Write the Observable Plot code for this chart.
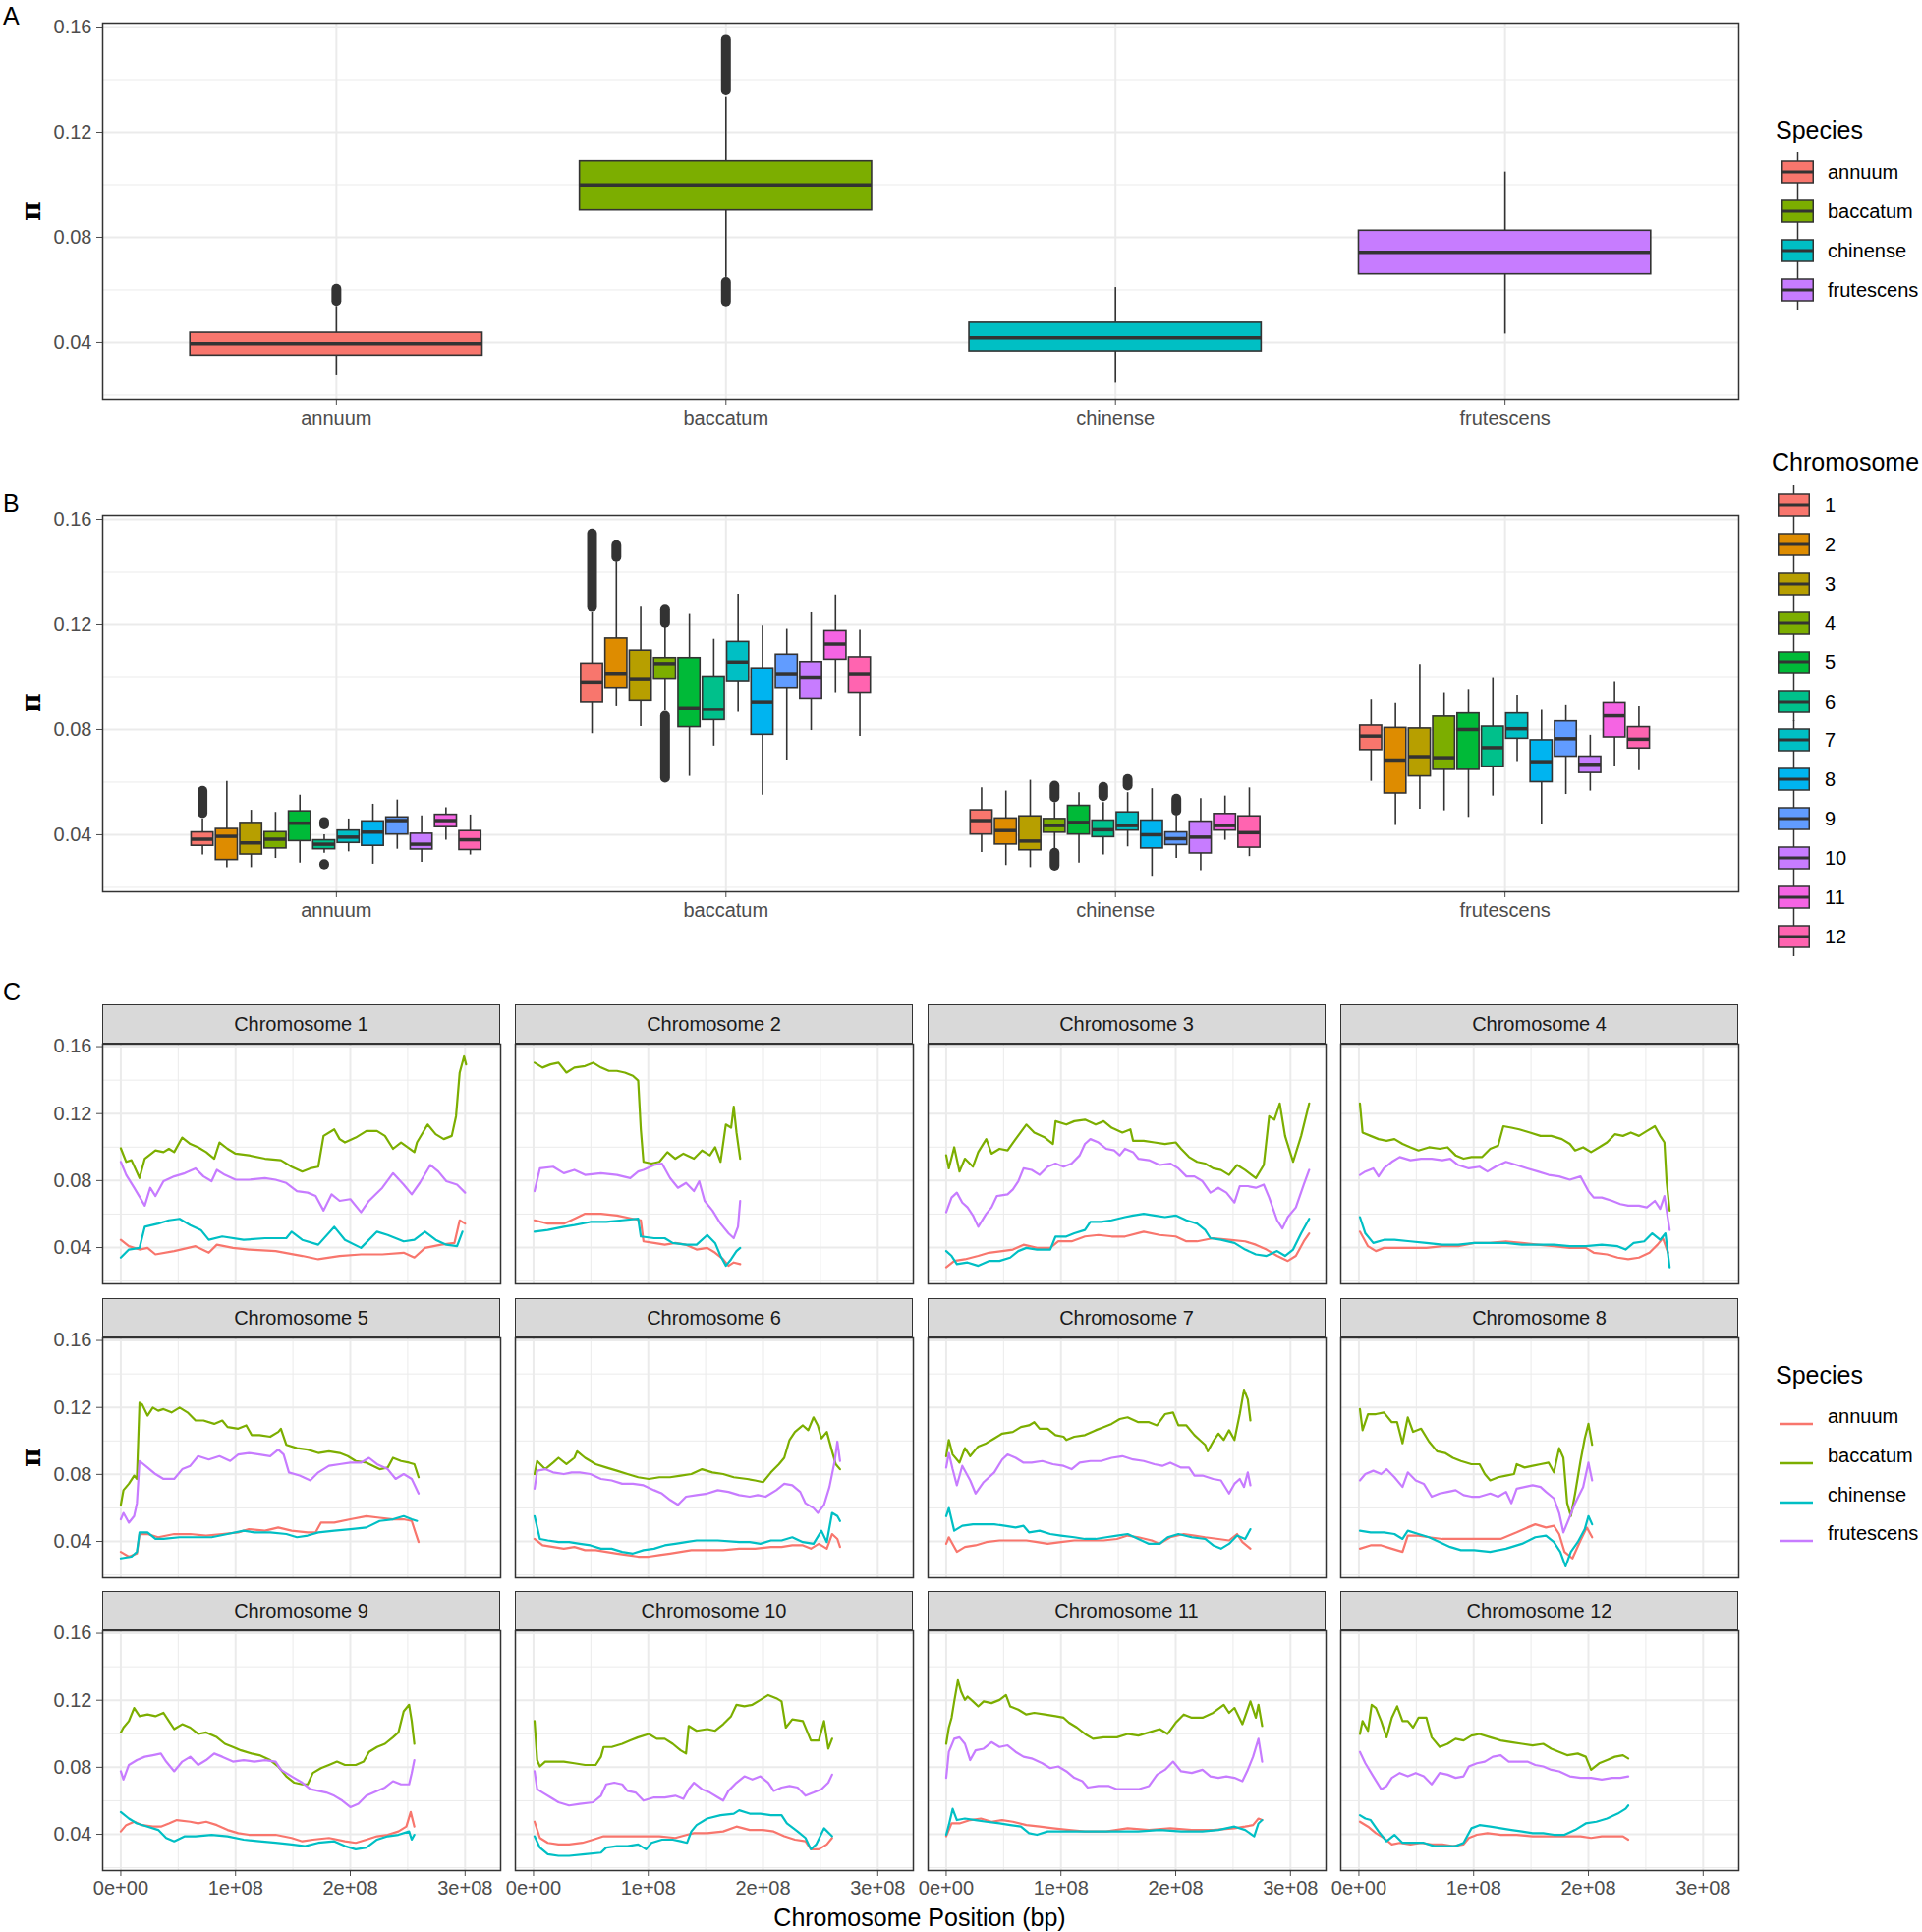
<!DOCTYPE html>
<html><head><meta charset="utf-8">
<script src="https://cdn.jsdelivr.net/npm/d3@7"></script>
<script src="https://cdn.jsdelivr.net/npm/@observablehq/plot@0.6"></script>
<style>
body{margin:0;background:#fff;}
#root{position:relative;width:1956px;height:1966px;overflow:hidden;}
</style></head><body><div id="root"></div><script>
// ---------- shared categories ----------
const speciesNames = ["annuum","baccatum","chinense","frutescens"];
const speciesColors = ["#F8766D","#7CAE00","#00BFC4","#C77CFF"];
const chromNames = ["1","2","3","4","5","6","7","8","9","10","11","12"];
const chromColors = ["#F8766D","#DE8C00","#B79F00","#7CAE00","#00BA38","#00C08B","#00BFC4","#00B4F0","#619CFF","#C77CFF","#F564E3","#FF64B0"];
const piTicks = [0.04,0.08,0.12,0.16];
const piMinor = [0.02,0.06,0.10,0.14];
const posTicks = [0,1e8,2e8,3e8];
const posMinor = [0.5e8,1.5e8,2.5e8];

// ---------- Panel A: box statistics per species ----------
const A_lower  = [0.0273,0.0647,0.0245,0.0432];
const A_q1     = [0.0350,0.0902,0.0366,0.0659];
const A_median = [0.0395,0.0999,0.0418,0.0743];
const A_q3     = [0.0437,0.1089,0.0475,0.0825];
const A_upper  = [0.0537,0.1332,0.0609,0.1048];
const outA_species = ["annuum","baccatum","baccatum"];
const outA_from = [0.0556,0.1357,0.0554];
const outA_to   = [0.0603,0.1550,0.0628];

// ---------- Panel B: box statistics per species x chromosome ----------
const annuum_lo  = [0.0323,0.0275,0.0275,0.0310,0.0292,0.0330,0.0335,0.0288,0.0345,0.0295,0.0379,0.0323];
const annuum_q1  = [0.0358,0.0304,0.0325,0.0348,0.0376,0.0345,0.0369,0.0358,0.0401,0.0344,0.0429,0.0342];
const annuum_med = [0.0383,0.0394,0.0369,0.0383,0.0444,0.0364,0.0391,0.0410,0.0454,0.0364,0.0454,0.0381];
const annuum_q3  = [0.0409,0.0422,0.0445,0.0410,0.0489,0.0379,0.0416,0.0451,0.0466,0.0404,0.0476,0.0414];
const annuum_hi  = [0.0460,0.0603,0.0493,0.0485,0.0550,0.0400,0.0460,0.0516,0.0532,0.0472,0.0503,0.0475];
const baccatum_lo  = [0.0784,0.0890,0.0811,0.0871,0.0622,0.0737,0.0865,0.0550,0.0684,0.0796,0.0940,0.0774];
const baccatum_q1  = [0.0905,0.0958,0.0911,0.0992,0.0809,0.0836,0.0983,0.0780,0.0958,0.0918,0.1064,0.0940];
const baccatum_med = [0.0980,0.1012,0.0992,0.1049,0.0883,0.0877,0.1055,0.0906,0.1011,0.0998,0.1127,0.1011];
const baccatum_q3  = [0.1049,0.1148,0.1102,0.1070,0.1070,0.1000,0.1135,0.1031,0.1083,0.1055,0.1176,0.1073];
const baccatum_hi  = [0.1245,0.1438,0.1266,0.1189,0.1239,0.1145,0.1316,0.1195,0.1183,0.1245,0.1313,0.1179];
const chinense_lo  = [0.0333,0.0283,0.0275,0.0345,0.0292,0.0323,0.0354,0.0242,0.0310,0.0263,0.0379,0.0317];
const chinense_q1  = [0.0401,0.0363,0.0341,0.0408,0.0401,0.0391,0.0416,0.0348,0.0361,0.0329,0.0416,0.0351];
const chinense_med = [0.0454,0.0416,0.0376,0.0435,0.0447,0.0419,0.0435,0.0400,0.0385,0.0391,0.0435,0.0408];
const chinense_q3  = [0.0493,0.0462,0.0470,0.0460,0.0510,0.0454,0.0485,0.0454,0.0409,0.0450,0.0479,0.0470];
const chinense_hi  = [0.0578,0.0566,0.0607,0.0522,0.0560,0.0522,0.0560,0.0575,0.0472,0.0537,0.0547,0.0578];
const frutescens_lo  = [0.0603,0.0435,0.0497,0.0491,0.0466,0.0547,0.0678,0.0438,0.0553,0.0566,0.0662,0.0644];
const frutescens_q1  = [0.0722,0.0557,0.0622,0.0647,0.0647,0.0659,0.0765,0.0600,0.0697,0.0635,0.0770,0.0728];
const frutescens_med = [0.0775,0.0684,0.0697,0.0693,0.0800,0.0731,0.0803,0.0678,0.0765,0.0668,0.0852,0.0763];
const frutescens_q3  = [0.0815,0.0806,0.0804,0.0849,0.0861,0.0811,0.0861,0.0759,0.0831,0.0697,0.0903,0.0809];
const frutescens_hi  = [0.0915,0.0902,0.1046,0.0940,0.0952,0.0996,0.0931,0.0877,0.0894,0.0778,0.0981,0.0890];
const outB_species = ["annuum","annuum","annuum","baccatum","baccatum","baccatum","baccatum","chinense","chinense","chinense","chinense","chinense"];
const outB_chrom = [1,6,6,1,2,4,4,4,4,6,7,9];
const outB_from = [0.0480,0.0437,0.0285,0.1265,0.1455,0.1205,0.0615,0.0540,0.0280,0.0545,0.0585,0.0490];
const outB_to   = [0.0565,0.0447,0.0287,0.1545,0.1500,0.1255,0.0850,0.0585,0.0330,0.0580,0.0610,0.0535];

// ---------- Panel C: sliding-window pi, [position Mb, pi] ----------
const chr1_annuum = [[0,.0446],[7,.0408],[16.3,.0388],[23.3,.0398],[30.2,.0359],[46.5,.0379],[65.1,.0408],[76.7,.0369],[83.7,.0417],[97.7,.0398],[111.6,.0388],[134.9,.0379],[158.1,.035],[172.1,.033],[190.7,.035],[209.3,.0359],[227.9,.0359],[246.5,.0369],[255.8,.034],[265.1,.0398],[279.1,.0417],[290.7,.0427],[295.3,.0563],[300,.0543]];
const chr1_baccatum = [[0,.0993],[4.7,.0912],[9.3,.0922],[16.3,.0815],[20.9,.0931],[30.2,.098],[37.2,.097],[41.9,.099],[46.5,.097],[53.5,.1057],[60.5,.1019],[67.4,.0999],[74.4,.097],[81.4,.0931],[86,.1028],[93,.099],[100,.0961],[111.6,.0951],[125.6,.0931],[139.5,.0922],[148.8,.0883],[158.1,.0854],[165.1,.0873],[172.1,.0883],[176.7,.1067],[186,.1106],[190.7,.1048],[195.3,.1028],[204.7,.1057],[214,.1096],[223.3,.1096],[230.2,.1067],[237.2,.099],[244.2,.1028],[255.8,.097],[258.1,.1028],[267.4,.1135],[274.4,.1077],[281.4,.1048],[288.4,.1067],[292.1,.1184],[295.3,.1445],[299.1,.1542],[300.9,.1494]];
const chr1_chinense = [[0,.034],[7,.0388],[16.3,.0398],[20.9,.0524],[32.6,.0543],[41.9,.0563],[51.2,.0572],[60.5,.0534],[69.8,.0505],[76.7,.0446],[88.4,.0466],[107,.0446],[125.6,.0456],[144.2,.0456],[148.8,.0495],[158.1,.0446],[172.1,.0417],[186,.0524],[195.3,.0446],[209.3,.0398],[223.3,.0495],[232.6,.0475],[246.5,.0437],[255.8,.0446],[265.1,.0495],[274.4,.0446],[283.7,.0417],[293,.0408],[297.7,.0495]];
const chr1_frutescens = [[0,.0912],[4.7,.0834],[11.6,.0757],[20.9,.065],[25.6,.0757],[30.2,.0708],[37.2,.0796],[46.5,.0825],[55.8,.0844],[65.1,.0873],[72.1,.0825],[79.1,.0796],[83.7,.0864],[90.7,.0834],[100,.0805],[111.6,.0805],[125.6,.0815],[134.9,.0805],[144.2,.0786],[153.5,.0737],[162.8,.0728],[169.8,.0708],[176.7,.0621],[183.7,.0718],[190.7,.0679],[200,.0689],[209.3,.0611],[216.3,.0679],[227.9,.0757],[237.2,.0844],[246.5,.0776],[253.5,.0718],[260.5,.0786],[269.8,.0893],[276.7,.0854],[283.7,.0796],[293,.0776],[300,.0728]];
const chr2_annuum = [[0.9,.0563],[12.5,.0543],[26.4,.0543],[35.6,.0572],[44.9,.0602],[58.8,.0602],[72.7,.0592],[86.6,.0572],[93.5,.0563],[95.8,.0437],[105.1,.0427],[114.4,.0417],[123.6,.0427],[132.9,.0417],[142.1,.0388],[151.4,.0398],[158.3,.0369],[165.3,.033],[169.9,.0291],[174.5,.0311],[180.1,.0301]];
const chr2_baccatum = [[0.9,.1504],[7.9,.1475],[14.8,.1494],[21.8,.1504],[28.7,.1445],[35.6,.1475],[44.9,.1484],[51.9,.1504],[58.8,.1475],[65.7,.1455],[72.7,.1455],[79.6,.1445],[86.6,.1426],[91.2,.1397],[93.5,.1106],[95.8,.0912],[102.8,.0902],[109.7,.0912],[116.7,.097],[123.6,.0931],[130.6,.0961],[139.8,.0931],[146.8,.098],[153.7,.0951],[158.3,.0999],[163,.0912],[167.6,.1135],[172.2,.1116],[174.5,.1242],[176.9,.1087],[180.1,.0931]];
const chr2_chinense = [[0.9,.0495],[12.5,.0505],[26.4,.0524],[35.6,.0534],[49.5,.0553],[63.4,.0553],[77.3,.0563],[91.2,.0572],[93.5,.0466],[105.1,.0456],[114.4,.0456],[121.3,.0427],[132.9,.0417],[142.1,.0417],[151.4,.0475],[158.3,.0427],[163,.035],[167.6,.0291],[172.2,.033],[176.9,.0379],[180.1,.0398]];
const chr2_frutescens = [[0.9,.0737],[5.6,.0873],[17.1,.0883],[26.4,.0844],[35.6,.0864],[44.9,.0834],[58.8,.0844],[72.7,.0834],[84.3,.0815],[91.2,.0854],[95.8,.0864],[105.1,.0893],[112,.0902],[119,.0815],[125.9,.0757],[132.9,.0786],[139.8,.0737],[144.4,.0796],[149.1,.0679],[156,.0621],[163,.0543],[169.9,.0485],[174.5,.0456],[178.2,.0524],[180.1,.0679]];
const chr3_annuum = [[0,.0282],[7,.032],[16.3,.033],[27.9,.035],[37.2,.0369],[48.8,.0379],[58.1,.0388],[67.4,.0417],[79.1,.0398],[90.7,.0398],[97.7,.0437],[109.3,.0437],[120.9,.0466],[132.6,.0475],[144.2,.0466],[155.8,.0466],[172.1,.0495],[186,.0475],[200,.0466],[209.3,.0437],[218.6,.0437],[232.6,.0456],[246.5,.0446],[260.5,.0437],[269.8,.0417],[279.1,.0388],[288.4,.035],[297.7,.032],[304.7,.035],[311.6,.0437],[316.3,.0485]];
const chr3_baccatum = [[0,.0951],[2.3,.0873],[7,.0999],[11.6,.0854],[16.3,.0931],[23.3,.0883],[27.9,.097],[34.9,.1048],[39.5,.0961],[46.5,.099],[53.5,.098],[60.5,.1048],[69.8,.1135],[76.7,.1087],[86,.1057],[93,.1019],[95.3,.1155],[104.7,.1135],[111.6,.1155],[120.9,.1164],[130.2,.1135],[137.2,.1155],[144.2,.1116],[153.5,.1087],[160.5,.1106],[162.8,.1038],[172.1,.1038],[181.4,.1028],[190.7,.1019],[200,.1028],[204.7,.099],[211.6,.0941],[218.6,.0912],[225.6,.0902],[232.6,.0873],[239.5,.0863],[246.5,.0834],[253.5,.0893],[260.5,.0863],[269.8,.0815],[276.7,.0893],[281.4,.1184],[286,.1164],[290.7,.1261],[295.3,.1067],[302.3,.0912],[309.3,.1067],[316.3,.1261]];
const chr3_chinense = [[0,.0379],[4.7,.035],[9.3,.0301],[18.6,.0311],[27.9,.0291],[37.2,.032],[46.5,.032],[55.8,.034],[62.8,.0379],[69.8,.0398],[79.1,.0388],[90.7,.0388],[95.3,.0466],[104.7,.0466],[111.6,.0485],[120.9,.0505],[125.6,.0553],[134.9,.0553],[144.2,.0563],[155.8,.0582],[162.8,.0592],[172.1,.0602],[181.4,.0592],[190.7,.0582],[200,.0592],[209.3,.0563],[218.6,.0543],[225.6,.0505],[230.2,.0456],[239.5,.0446],[251.2,.0427],[260.5,.0388],[269.8,.0359],[279.1,.035],[288.4,.0379],[295.3,.035],[302.3,.0388],[309.3,.0485],[316.3,.0572]];
const chr3_frutescens = [[0,.0611],[4.7,.0699],[9.3,.0728],[14,.0669],[18.6,.064],[23.3,.0592],[27.9,.0524],[34.9,.0602],[39.5,.064],[44.2,.0708],[53.5,.0718],[58.1,.0747],[62.8,.0796],[67.4,.0873],[74.4,.0864],[81.4,.0834],[88.4,.0883],[95.3,.0902],[102.3,.0883],[109.3,.0902],[116.3,.0951],[120.9,.1019],[125.6,.1048],[132.6,.1028],[139.5,.099],[146.5,.098],[151.2,.0951],[155.8,.099],[162.8,.097],[167.4,.0931],[176.7,.0922],[186,.0893],[195.3,.0902],[202.3,.0873],[209.3,.0825],[216.3,.0825],[223.3,.0796],[230.2,.0728],[237.2,.0757],[244.2,.0728],[251.2,.0669],[255.8,.0767],[262.8,.0767],[269.8,.0757],[276.7,.0776],[281.4,.0699],[288.4,.0563],[293,.0514],[297.7,.0582],[304.7,.064],[311.6,.0776],[316.3,.0864]];
const chr4_annuum = [[0.9,.0495],[7.9,.0408],[14.8,.0379],[21.8,.0398],[31,.0398],[44.9,.0398],[58.8,.0398],[72.7,.0408],[86.6,.0408],[100.5,.0427],[114.4,.0427],[128.2,.0437],[142.1,.0427],[156,.0417],[169.9,.0408],[183.8,.0398],[197.7,.0398],[204.6,.0369],[216.2,.0359],[225.5,.034],[234.7,.033],[244,.034],[253.2,.0369],[260.2,.0417],[264.8,.0456],[269.4,.0369]];
const chr4_baccatum = [[0.9,.1261],[3.2,.1087],[10.2,.1067],[17.1,.1048],[24.1,.1038],[31,.1048],[38,.1019],[44.9,.0999],[51.9,.098],[61.1,.0999],[70.4,.099],[77.3,.0999],[84.3,.0951],[91.2,.0931],[98.1,.0941],[107.4,.0941],[114.4,.099],[121.3,.1009],[125.9,.1125],[132.9,.1116],[139.8,.1106],[149.1,.1087],[158.3,.1067],[167.6,.1067],[176.9,.1048],[183.8,.1019],[188.4,.098],[195.4,.0999],[202.3,.097],[209.3,.0999],[216.2,.1028],[223.1,.1077],[230.1,.1067],[237,.1087],[244,.1067],[250.9,.1096],[257.9,.1125],[262.5,.1067],[266.2,.1028],[268.1,.0796],[270.8,.0621]];
const chr4_chinense = [[0.9,.0582],[5.6,.0485],[12.5,.0427],[21.8,.0446],[31,.0446],[44.9,.0437],[58.8,.0427],[72.7,.0417],[86.6,.0417],[100.5,.0427],[114.4,.0427],[128.2,.0427],[142.1,.0417],[156,.0417],[169.9,.0417],[183.8,.0408],[197.7,.0408],[211.6,.0417],[225.5,.0408],[232.4,.0388],[239.4,.0427],[248.6,.0437],[255.6,.0485],[262.5,.0446],[267.1,.0485],[270.8,.0282]];
const chr4_frutescens = [[0.9,.0834],[5.6,.0854],[12.5,.0873],[17.1,.0825],[21.8,.0873],[28.7,.0912],[35.6,.0941],[44.9,.0922],[54.2,.0931],[63.4,.0931],[72.7,.0922],[79.6,.0931],[86.6,.0893],[95.8,.0873],[105.1,.0883],[112,.0854],[119,.0883],[128.2,.0912],[137.5,.0893],[146.8,.0873],[156,.0854],[165.3,.0834],[174.5,.0825],[183.8,.0805],[193.1,.0825],[200,.0737],[204.6,.0699],[211.6,.0699],[220.8,.0679],[227.8,.066],[234.7,.065],[244,.065],[250.9,.064],[257.9,.0679],[262.5,.0631],[266.2,.0708],[270.8,.0505]];
const chr5_annuum = [[0,.0338],[7,.0309],[14,.0328],[16.3,.0444],[23.3,.0444],[32.6,.0425],[46.5,.0444],[60.5,.0444],[74.4,.0435],[88.4,.0444],[102.3,.0454],[111.6,.0473],[125.6,.0464],[137.2,.0483],[148.8,.0464],[162.8,.0454],[169.8,.0454],[174.4,.0512],[186,.0512],[200,.0532],[214,.0551],[225.6,.0541],[237.2,.0532],[246.5,.0532],[253.5,.0522],[256.7,.0454],[259.5,.0396]];
const chr5_baccatum = [[0,.0619],[2.3,.0706],[7,.0744],[11.6,.0793],[14,.0773],[16.3,.1228],[18.6,.1218],[23.3,.1151],[27.9,.1199],[32.6,.118],[37.2,.119],[44.2,.117],[51.2,.1199],[58.1,.117],[65.1,.1122],[72.1,.1122],[81.4,.1102],[88.4,.1122],[93,.1083],[102.3,.1073],[109.3,.1093],[114,.1035],[120.9,.1035],[130.2,.1025],[137.2,.1054],[139.5,.1073],[144.2,.0977],[153.5,.0957],[162.8,.0948],[172.1,.0928],[181.4,.0938],[190.7,.0928],[197.7,.0909],[204.7,.088],[214,.087],[225.6,.0831],[232.6,.0841],[237.2,.0899],[244.2,.088],[251.2,.087],[255.8,.0861],[259.5,.0783]];
const chr5_chinense = [[0,.0299],[9.3,.0309],[14,.0338],[16.3,.0454],[23.3,.0454],[30.2,.0415],[37.2,.0415],[51.2,.0425],[65.1,.0425],[79.1,.0425],[93,.0444],[107,.0464],[116.3,.0454],[130.2,.0454],[144.2,.0444],[153.5,.0425],[162.8,.0435],[172.1,.0454],[186,.0464],[200,.0473],[214,.0483],[225.6,.0522],[237.2,.0532],[246.5,.0551],[253.5,.0532],[258.1,.0522]];
const chr5_frutescens = [[0,.0532],[2.3,.057],[7,.0512],[11.6,.0551],[14,.0628],[16.3,.088],[23.3,.0841],[30.2,.0802],[37.2,.0773],[46.5,.0773],[53.5,.0831],[60.5,.0851],[67.4,.0909],[76.7,.0889],[86,.0909],[95.3,.088],[102.3,.0919],[111.6,.0928],[120.9,.0919],[130.2,.0909],[137.2,.0948],[141.9,.0919],[146.5,.0812],[155.8,.0793],[165.1,.0764],[172.1,.0812],[181.4,.0851],[190.7,.0861],[200,.087],[209.3,.087],[216.3,.0899],[223.3,.0861],[232.6,.0831],[239.5,.0773],[246.5,.0802],[253.5,.0773],[259.5,.0686]];
const chr6_annuum = [[0.9,.0415],[7.9,.0377],[17.1,.0367],[26.4,.0357],[35.6,.0367],[44.9,.0348],[54.2,.0348],[63.4,.0338],[72.7,.0328],[81.9,.0319],[91.2,.0309],[100.5,.0309],[109.7,.0319],[119,.0328],[128.2,.0338],[137.5,.0348],[151.4,.0348],[165.3,.0348],[179.2,.0357],[193.1,.0357],[206.9,.0367],[216.2,.0367],[225.5,.0377],[234.7,.0377],[241.7,.0357],[248.6,.0386],[255.6,.0357],[260.2,.0444],[264.8,.0415],[267.1,.0367]];
const chr6_baccatum = [[0.9,.0802],[3.2,.088],[10.2,.0831],[17.1,.087],[21.8,.0899],[28.7,.0861],[35.6,.0899],[38,.0938],[44.9,.0899],[54.2,.0861],[63.4,.0841],[72.7,.0822],[81.9,.0802],[91.2,.0783],[100.5,.0773],[109.7,.0783],[119,.0783],[128.2,.0793],[137.5,.0802],[146.8,.0831],[156,.0812],[165.3,.0802],[174.5,.0783],[186.1,.0773],[193.1,.0764],[200,.0754],[206.9,.0812],[213.9,.0861],[218.5,.0899],[223.1,.1006],[227.8,.1054],[234.7,.1093],[239.4,.1064],[244,.1141],[247.7,.1093],[250.9,.1015],[255.6,.1054],[260.2,.0938],[263.4,.0861],[267.1,.0831]];
const chr6_chinense = [[0.9,.0551],[5.6,.0415],[12.5,.0406],[21.8,.0396],[31,.0396],[40.3,.0386],[49.5,.0377],[58.8,.0357],[68.1,.0357],[77.3,.0338],[86.6,.0328],[95.8,.0348],[105.1,.0357],[114.4,.0377],[123.6,.0386],[132.9,.0396],[142.1,.0406],[160.6,.0406],[179.2,.0396],[188.4,.0396],[197.7,.0386],[206.9,.0406],[216.2,.0406],[225.5,.0425],[234.7,.0396],[244,.0386],[250.9,.0464],[255.6,.0396],[260.2,.057],[264.8,.0551],[267.1,.0522]];
const chr6_frutescens = [[0.9,.0715],[3.2,.0822],[10.2,.0831],[17.1,.0812],[26.4,.0802],[33.3,.0812],[40.3,.0812],[49.5,.0802],[58.8,.0773],[68.1,.0764],[77.3,.0744],[86.6,.0744],[95.8,.0735],[105.1,.0706],[112,.0686],[119,.0648],[125.9,.0619],[132.9,.0667],[142.1,.0677],[151.4,.0686],[160.6,.0706],[169.9,.0696],[179.2,.0677],[188.4,.0667],[195.4,.0677],[202.3,.0667],[211.6,.0706],[218.5,.0744],[225.5,.0735],[232.4,.0696],[237,.0628],[244,.0599],[247.7,.057],[253.2,.0619],[257.9,.0725],[262.5,.088],[264.8,.0996],[267.1,.088]];
const chr7_annuum = [[0,.0386],[2.3,.0425],[9.3,.0338],[16.3,.0367],[25.6,.0377],[34.9,.0396],[46.5,.0406],[58.1,.0406],[69.8,.0406],[79.1,.0396],[88.4,.0386],[100,.0396],[111.6,.0406],[123.3,.0406],[137.2,.0406],[148.8,.0415],[158.1,.0435],[167.4,.0425],[179.1,.0406],[186,.0386],[195.3,.0425],[207,.0444],[216.3,.0435],[225.6,.0425],[237.2,.0415],[246.5,.0406],[253.5,.0444],[258.1,.0396],[265.1,.0357]];
const chr7_baccatum = [[0,.0909],[2.3,.1006],[5.6,.0919],[11.6,.087],[16.3,.0957],[20.9,.0909],[27.9,.0967],[34.9,.0986],[41.9,.1015],[48.8,.1044],[58.1,.1054],[65.1,.1083],[72.1,.1093],[76.7,.1112],[81.4,.1073],[88.4,.1073],[95.3,.1035],[102.3,.1025],[104.7,.1006],[111.6,.1025],[120.9,.1035],[130.2,.1064],[137.2,.1083],[144.2,.1102],[151.2,.1131],[158.1,.1141],[167.4,.1112],[176.7,.1112],[183.7,.1093],[190.7,.116],[197.7,.117],[202.3,.1093],[209.3,.1093],[216.3,.1035],[220.9,.1006],[225.6,.0977],[227.9,.0938],[232.6,.0996],[237.2,.1044],[241.9,.1006],[246.5,.1064],[251.2,.1006],[255.8,.116],[259.5,.1306],[262.8,.1247],[265.1,.1122]];
const chr7_chinense = [[0,.0551],[2.3,.0599],[7,.0464],[14,.0493],[23.3,.0502],[32.6,.0502],[41.9,.0502],[51.2,.0493],[60.5,.0483],[67.4,.0493],[72.1,.0454],[81.4,.0464],[90.7,.0444],[100,.0435],[111.6,.0425],[120.9,.0415],[130.2,.0415],[139.5,.0425],[148.8,.0435],[158.1,.0444],[167.4,.0415],[176.7,.0386],[186,.0386],[193,.0425],[202.3,.0444],[214,.0425],[225.6,.0415],[232.6,.0377],[239.5,.0357],[246.5,.0386],[253.5,.0435],[260.5,.0415],[265.1,.0473]];
const chr7_frutescens = [[0,.0841],[2.3,.0928],[5.6,.0831],[9.3,.0735],[14,.0851],[20.9,.0764],[25.6,.0686],[32.6,.0754],[41.9,.0812],[48.8,.0889],[53.5,.0919],[60.5,.0899],[67.4,.087],[74.4,.087],[83.7,.088],[93,.0861],[102.3,.0851],[109.3,.0831],[116.3,.087],[125.6,.088],[134.9,.088],[144.2,.0899],[153.5,.0909],[162.8,.0889],[172.1,.088],[181.4,.0861],[188.4,.0851],[195.3,.087],[204.7,.0841],[211.6,.0841],[216.3,.0793],[223.3,.0793],[232.6,.0773],[239.5,.0764],[246.5,.0686],[251.2,.0744],[255.8,.0773],[259.5,.0725],[262.8,.0812],[265.1,.0735]];
const chr8_annuum = [[0.9,.0357],[10.2,.0377],[19.4,.0377],[28.7,.0357],[38,.0338],[42.6,.0435],[51.9,.0435],[61.1,.0425],[72.7,.0415],[95.8,.0415],[123.6,.0415],[137.5,.0454],[146.8,.0483],[153.7,.0502],[163,.0483],[169.9,.0493],[174.5,.0444],[179.2,.0338],[186.1,.0299],[193.1,.0406],[198.6,.0483],[203.2,.0425]];
const chr8_baccatum = [[0.9,.119],[3.2,.1064],[7.9,.116],[14.8,.116],[21.8,.117],[28.7,.1112],[33.3,.1112],[38,.0986],[42.6,.1141],[47.2,.1054],[54.2,.1073],[61.1,.0996],[68.1,.0938],[75,.0928],[81.9,.0899],[88.9,.088],[98.1,.0861],[105.1,.0861],[109.7,.0802],[114.4,.0764],[121.3,.0783],[128.2,.0793],[135.2,.0802],[137.5,.0861],[144.4,.0841],[151.4,.0851],[158.3,.0861],[165.3,.087],[169.9,.0812],[174.5,.0957],[178.2,.0899],[181.5,.0628],[184.7,.0551],[188.4,.0686],[193.1,.088],[196.8,.1015],[200,.1102],[203.2,.0977]];
const chr8_chinense = [[0.9,.0464],[10.2,.0454],[21.8,.0454],[31,.0444],[38,.0415],[42.6,.0464],[51.9,.0444],[61.1,.0425],[70.4,.0396],[79.6,.0367],[88.9,.0348],[100.5,.0348],[114.4,.0338],[128.2,.0357],[142.1,.0386],[153.7,.0425],[163,.0435],[169.9,.0396],[175.5,.0338],[180.1,.0251],[184.7,.0338],[190.7,.0396],[196.8,.0473],[200,.0551],[203.2,.0502]];
const chr8_frutescens = [[0.9,.0764],[5.6,.0802],[12.5,.0822],[19.4,.0802],[24.1,.0831],[31,.0783],[38,.0725],[42.6,.0812],[49.5,.0764],[56.5,.0744],[63.4,.0667],[70.4,.0686],[77.3,.0696],[84.3,.0706],[91.2,.0677],[98.1,.0667],[105.1,.0667],[114.4,.0686],[121.3,.0667],[128.2,.0696],[132.9,.0628],[137.5,.0715],[144.4,.0725],[151.4,.0735],[158.3,.0725],[163,.0696],[169.9,.0657],[174.5,.057],[178.2,.0454],[182.9,.0532],[188.4,.0628],[195.4,.0725],[200,.087],[203.2,.0764]];
const chr9_annuum = [[0,.0417],[4.7,.0455],[11.6,.0475],[18.6,.0455],[27.9,.0446],[34.9,.0446],[41.9,.0465],[48.8,.0485],[60.5,.0475],[67.4,.0465],[74.4,.0475],[83.7,.0455],[93,.0426],[102.3,.0407],[111.6,.0397],[120.9,.0397],[134.9,.0397],[148.8,.0378],[158.1,.0358],[167.4,.0368],[181.4,.0378],[195.3,.0358],[204.7,.0349],[214,.0368],[223.3,.0388],[232.6,.0397],[241.9,.0417],[248.8,.0446],[252.6,.0533],[255.8,.0446]];
const chr9_baccatum = [[0,.1008],[2.3,.1037],[7,.1076],[11.6,.1154],[16.3,.1105],[23.3,.1115],[30.2,.1105],[37.2,.1125],[41.9,.1076],[46.5,.1028],[53.5,.1057],[60.5,.1037],[67.4,.0999],[74.4,.1008],[83.7,.0979],[90.7,.094],[97.7,.0921],[104.7,.0901],[114,.0882],[120.9,.0872],[130.2,.0843],[137.2,.0805],[144.2,.0746],[151.2,.0708],[158.1,.0698],[162.8,.0698],[167.4,.0766],[174.4,.0795],[181.4,.0814],[188.4,.0834],[195.3,.0814],[204.7,.0814],[211.6,.0834],[216.3,.0892],[223.3,.0921],[230.2,.094],[237.2,.0979],[241.9,.1008],[246.5,.1134],[251.2,.1173],[253.5,.1076],[255.8,.094]];
const chr9_chinense = [[0,.0533],[7,.0494],[14,.0465],[23.3,.0446],[32.6,.0426],[39.5,.0378],[46.5,.0358],[55.8,.0388],[65.1,.0388],[79.1,.0397],[93,.0388],[107,.0368],[120.9,.0358],[134.9,.0349],[148.8,.0339],[160.5,.0329],[172.1,.0349],[186,.0358],[195.3,.0329],[204.7,.031],[214,.032],[223.3,.0368],[232.6,.0388],[241.9,.0397],[251.2,.0417],[253.5,.0368],[255.8,.0397]];
const chr9_frutescens = [[0,.0776],[2.3,.0727],[7,.0814],[14,.0843],[20.9,.0863],[27.9,.0872],[34.9,.0882],[39.5,.0834],[46.5,.0776],[53.5,.0834],[60.5,.0863],[67.4,.0814],[74.4,.0843],[81.4,.0882],[88.4,.0863],[97.7,.0834],[107,.0843],[116.3,.0834],[125.6,.0843],[134.9,.0834],[139.5,.0785],[148.8,.0746],[158.1,.0708],[165.1,.0669],[172.1,.0659],[179.1,.0649],[186,.063],[193,.0601],[200,.0562],[207,.0582],[214,.063],[223.3,.0659],[230.2,.0679],[237.2,.0717],[244.2,.0698],[251.2,.0698],[253.5,.0766],[255.8,.0843]];
const chr10_annuum = [[0.9,.0475],[5.6,.0378],[12.5,.0349],[21.8,.0339],[31,.0339],[42.6,.0349],[51.9,.0368],[61.1,.0388],[81.9,.0388],[109.7,.0388],[123.6,.0378],[133.8,.0397],[139.8,.0407],[151.4,.0407],[165.3,.0417],[176.9,.0446],[188.4,.0426],[200,.0426],[209.3,.0417],[218.5,.0388],[227.8,.0368],[237,.0358],[241.7,.031],[248.6,.031],[255.6,.0339],[260.2,.0378]];
const chr10_baccatum = [[0.9,.1076],[3.2,.0843],[5.6,.0805],[10.2,.0834],[17.1,.0834],[26.4,.0834],[35.6,.0824],[44.9,.0814],[54.2,.0814],[58.8,.0863],[61.1,.0921],[68.1,.0921],[77.3,.094],[84.3,.096],[91.2,.0979],[100.5,.0999],[107.4,.097],[114.4,.097],[121.3,.094],[128.2,.0901],[132.9,.0882],[135.2,.1047],[142.1,.1018],[151.4,.1028],[158.3,.1018],[165.3,.1057],[172.2,.1105],[176.9,.1173],[183.8,.1164],[190.7,.1173],[197.7,.1202],[204.6,.1231],[211.6,.1212],[216.2,.1193],[219.9,.1037],[225.5,.1086],[234.7,.1076],[241.7,.096],[248.6,.096],[253.2,.1076],[256.9,.0911],[260.2,.097]];
const chr10_chinense = [[0.9,.0388],[5.6,.032],[12.5,.0281],[21.8,.0271],[31,.0271],[44.9,.0281],[58.8,.029],[63.4,.032],[72.7,.0329],[81.9,.0329],[91.2,.0339],[98.1,.031],[102.8,.0349],[112,.0368],[121.3,.0368],[128.2,.0358],[133.8,.0349],[137.5,.0417],[142.1,.0455],[151.4,.0494],[163,.0514],[174.5,.0523],[179.2,.0543],[188.4,.0523],[197.7,.0523],[206.9,.0514],[216.2,.0514],[220.8,.0465],[230.1,.0417],[237,.0378],[241.7,.031],[246.3,.0339],[253.2,.0436],[260.2,.0388]];
const chr10_frutescens = [[0.9,.0776],[3.2,.0669],[7.9,.0649],[14.8,.062],[21.8,.0591],[31,.0572],[40.3,.0581],[51.9,.0591],[58.8,.063],[63.4,.0698],[70.4,.0708],[77.3,.0698],[81.9,.0659],[88.9,.0649],[95.8,.0601],[105.1,.062],[114.4,.062],[123.6,.063],[130.6,.0611],[135.2,.0669],[139.8,.0708],[146.8,.0669],[153.7,.0649],[160.6,.062],[165.3,.0601],[169.9,.0659],[176.9,.0708],[183.8,.0746],[190.7,.0727],[197.7,.0746],[204.6,.0708],[209.3,.0659],[216.2,.0679],[223.1,.0688],[230.1,.0679],[237,.063],[244,.0649],[250.9,.0669],[256.9,.0708],[260.2,.0756]];
const chr11_annuum = [[0,.0388],[4.7,.0465],[11.6,.0465],[20.9,.0485],[30.2,.0494],[39.5,.0475],[48.8,.0485],[58.1,.0475],[69.8,.0455],[81.4,.0446],[93,.0436],[107,.0426],[120.9,.0417],[139.5,.0417],[158.1,.0436],[176.7,.0426],[195.3,.0436],[214,.0426],[232.6,.0426],[251.2,.0436],[260.5,.0446],[267.4,.0455],[272.1,.0494],[275.3,.0485]];
const chr11_baccatum = [[0,.094],[2.3,.1037],[4.7,.1096],[7,.1193],[10.2,.1319],[13,.1251],[16.3,.1202],[18.6,.1222],[23.3,.1193],[27.9,.1163],[32.6,.1193],[39.5,.1183],[46.5,.1202],[52.1,.1231],[55.8,.1163],[62.8,.1144],[69.8,.1115],[76.7,.1125],[86,.1115],[95.3,.1105],[102.3,.1096],[107,.1066],[114,.1037],[120.9,.0999],[127.9,.097],[137.2,.0979],[148.8,.0979],[158.1,.0999],[167.4,.0989],[176.7,.1008],[186,.1028],[193,.0999],[200,.1066],[207,.1115],[214,.1096],[223.3,.1096],[232.6,.1125],[241.9,.1173],[246.5,.1125],[251.2,.1154],[258.1,.1057],[265.1,.1193],[269.8,.1096],[272.1,.1173],[275.3,.1047]];
const chr11_chinense = [[0,.0397],[2.3,.0455],[5.6,.0552],[9.3,.0485],[16.3,.0494],[25.6,.0485],[34.9,.0475],[46.5,.0465],[55.8,.0455],[65.1,.0446],[72.1,.0407],[79.1,.0397],[88.4,.0417],[111.6,.0417],[134.9,.0417],[167.4,.0417],[186,.0426],[204.7,.0417],[223.3,.0417],[237.2,.0426],[251.2,.0446],[260.5,.0426],[268.4,.0388],[272.1,.0465],[275.3,.0485]];
const chr11_frutescens = [[0,.0737],[2.3,.0892],[7,.097],[11.6,.0979],[16.3,.094],[20.9,.0843],[25.6,.0901],[32.6,.0911],[39.5,.095],[46.5,.0921],[53.5,.0931],[60.5,.0892],[67.4,.0863],[74.4,.0853],[83.7,.0824],[90.7,.0795],[97.7,.0805],[104.7,.0776],[111.6,.0737],[118.6,.0717],[123.3,.0679],[132.6,.0688],[141.9,.0688],[148.8,.0669],[158.1,.0669],[167.4,.0669],[176.7,.0688],[183.7,.0756],[190.7,.0785],[197.7,.0834],[204.7,.0776],[214,.0766],[223.3,.0785],[230.2,.0746],[237.2,.0737],[244.2,.0746],[251.2,.0737],[258.1,.0717],[262.8,.0785],[267.4,.0863],[272.1,.097],[275.3,.0834]];
const chr12_annuum = [[0.9,.0475],[7.9,.0446],[14.8,.0407],[21.8,.0378],[28.7,.0339],[35.6,.0349],[44.9,.0339],[54.2,.0349],[63.4,.0339],[72.7,.0339],[81.9,.0329],[91.2,.0339],[95.8,.0378],[102.8,.0397],[112,.0407],[123.6,.0397],[137.5,.0397],[151.4,.0388],[165.3,.0388],[179.2,.0388],[193.1,.0388],[202.3,.0378],[211.6,.0388],[220.8,.0388],[230.1,.0388],[234.7,.0368]];
const chr12_baccatum = [[0.9,.0999],[3.2,.1076],[7.9,.1018],[11.1,.1173],[14.8,.1154],[19.4,.1076],[24.1,.0979],[28.7,.1096],[33.3,.1164],[38,.1076],[42.6,.1076],[47.2,.1037],[51.9,.1096],[58.8,.1096],[63.4,.0979],[70.4,.0921],[77.3,.094],[84.3,.097],[91.2,.096],[98.1,.0989],[105.1,.0999],[114.4,.0979],[123.6,.096],[132.9,.095],[142.1,.094],[151.4,.0931],[160.6,.094],[167.6,.0911],[174.5,.0892],[181.5,.0872],[190.7,.0882],[197.7,.0863],[202.3,.0785],[209.3,.0824],[216.2,.0843],[223.1,.0863],[230.1,.0872],[234.7,.0853]];
const chr12_chinense = [[0.9,.0514],[5.6,.0494],[10.2,.0485],[17.1,.0417],[24.1,.0358],[31,.0397],[38,.0349],[47.2,.0349],[56.5,.0349],[65.7,.0329],[75,.0329],[84.3,.0329],[91.2,.0349],[98.1,.0436],[105.1,.0455],[114.4,.0446],[123.6,.0436],[132.9,.0426],[142.1,.0417],[151.4,.0407],[160.6,.0407],[169.9,.0397],[179.2,.0397],[188.4,.0426],[197.7,.0465],[206.9,.0475],[216.2,.0494],[225.5,.0523],[232.4,.0552],[234.7,.0572]];
const chr12_frutescens = [[0.9,.0892],[5.6,.0824],[12.5,.0746],[19.4,.0669],[24.1,.0688],[28.7,.0737],[35.6,.0766],[42.6,.0746],[49.5,.0766],[56.5,.0746],[63.4,.0698],[70.4,.0766],[77.3,.0756],[84.3,.0737],[91.2,.0746],[95.8,.0805],[102.8,.0824],[109.7,.0834],[116.7,.0863],[123.6,.0872],[130.6,.0834],[137.5,.0834],[146.8,.0834],[153.7,.0814],[160.6,.0805],[167.6,.0785],[174.5,.0776],[183.8,.0746],[193.1,.0737],[202.3,.0737],[211.6,.0727],[220.8,.0737],[227.8,.0737],[234.7,.0746]];

// ---------- layout / styling ----------
const root = document.getElementById("root");
const FONT = "'Liberation Sans', Arial, Helvetica, sans-serif";
const INK = "#333333";
const GRID = "#EBEBEB";
const Y_DOMAIN = [0.0183, 0.1615];
const X_DOMAIN_C = [-1.58e7, 3.31e8];
const baseStyle = {background:"transparent", fontFamily:FONT, fontSize:"20px", color:"#4D4D4D", overflow:"visible"};

function put(el, x, y){ el.style.position="absolute"; el.style.left=x+"px"; el.style.top=y+"px"; root.appendChild(el); return el; }
function text(str, x, y, size, o={}){
  const d=document.createElement("div"); d.textContent=str;
  d.style.cssText=`position:absolute;left:${x}px;top:${y}px;font-size:${size}px;line-height:1;white-space:nowrap;color:${o.color||"#000"};font-family:${o.family||FONT};font-weight:${o.weight||"normal"};transform:${o.transform||"translateY(-50%)"};`;
  root.appendChild(d); return d;
}

function boxPanel(rows, outs, half, colorDomain, colorRange){
  return Plot.plot({
    width:1785, height:445, marginLeft:104, marginRight:16, marginTop:23, marginBottom:39,
    style: baseStyle,
    x:{domain:[0.4,4.6], ticks:[1,2,3,4], tickFormat:d=>speciesNames[d-1], tickSize:6, tickPadding:5, label:null},
    y:{domain:Y_DOMAIN, ticks:piTicks, tickFormat:d=>d.toFixed(2), tickSize:6, tickPadding:5, label:null},
    color:{domain:colorDomain, range:colorRange},
    marks:[
      Plot.ruleY(piMinor, {stroke:GRID, strokeWidth:1}),
      Plot.ruleY(piTicks, {stroke:GRID, strokeWidth:2}),
      Plot.ruleX([1,2,3,4], {stroke:GRID, strokeWidth:2}),
      Plot.ruleX(rows, {x:"pos", y1:"lo", y2:"hi", stroke:INK, strokeWidth:1.6}),
      Plot.ruleX(outs, {x:"pos", y1:"from", y2:"to", stroke:INK, strokeWidth:10, strokeLinecap:"round"}),
      Plot.rect(rows, {x1:d=>d.pos-half, x2:d=>d.pos+half, y1:"q1", y2:"q3", fill:"key", stroke:INK, strokeWidth:1.6}),
      Plot.ruleY(rows, {y:"med", x1:d=>d.pos-half, x2:d=>d.pos+half, stroke:INK, strokeWidth:3.5}),
      Plot.frame({stroke:INK, strokeWidth:1.5})
    ]
  });
}

// Panel A
const rowsA = speciesNames.map((s,i)=>({key:s, pos:i+1, lo:A_lower[i], q1:A_q1[i], med:A_median[i], q3:A_q3[i], hi:A_upper[i]}));
const outsA = outA_species.map((s,i)=>({pos:speciesNames.indexOf(s)+1, from:outA_from[i], to:outA_to[i]}));
put(boxPanel(rowsA, outsA, 0.375, speciesNames, speciesColors), 0, 0);

// Panel B
const statsB = {
  annuum:[annuum_lo,annuum_q1,annuum_med,annuum_q3,annuum_hi],
  baccatum:[baccatum_lo,baccatum_q1,baccatum_med,baccatum_q3,baccatum_hi],
  chinense:[chinense_lo,chinense_q1,chinense_med,chinense_q3,chinense_hi],
  frutescens:[frutescens_lo,frutescens_q1,frutescens_med,frutescens_q3,frutescens_hi]
};
const slot = 0.75/12;
const rowsB = [];
speciesNames.forEach((s,si)=>{
  const [lo,q1,med,q3,hi] = statsB[s];
  chromNames.forEach((c,k)=>rowsB.push({key:c, pos:si+1+(k-5.5)*slot, lo:lo[k], q1:q1[k], med:med[k], q3:q3[k], hi:hi[k]}));
});
const outsB = outB_species.map((s,i)=>({pos:speciesNames.indexOf(s)+1+(outB_chrom[i]-1-5.5)*slot, from:outB_from[i], to:outB_to[i]}));
put(boxPanel(rowsB, outsB, slot*0.45, chromNames, chromColors), 0, 501);

// Panel C facets
const chromSeries = [
  [chr1_annuum,chr1_baccatum,chr1_chinense,chr1_frutescens],
  [chr2_annuum,chr2_baccatum,chr2_chinense,chr2_frutescens],
  [chr3_annuum,chr3_baccatum,chr3_chinense,chr3_frutescens],
  [chr4_annuum,chr4_baccatum,chr4_chinense,chr4_frutescens],
  [chr5_annuum,chr5_baccatum,chr5_chinense,chr5_frutescens],
  [chr6_annuum,chr6_baccatum,chr6_chinense,chr6_frutescens],
  [chr7_annuum,chr7_baccatum,chr7_chinense,chr7_frutescens],
  [chr8_annuum,chr8_baccatum,chr8_chinense,chr8_frutescens],
  [chr9_annuum,chr9_baccatum,chr9_chinense,chr9_frutescens],
  [chr10_annuum,chr10_baccatum,chr10_chinense,chr10_frutescens],
  [chr11_annuum,chr11_baccatum,chr11_chinense,chr11_frutescens],
  [chr12_annuum,chr12_baccatum,chr12_chinense,chr12_frutescens]
];
const PANEL_LEFT = [104,524,944,1364];
const PANEL_TOP = [1062,1361,1659];
const PW = 405, PH = 244, ML = 60, MT = 4;
const fmtBp = d => d===0 ? "0e+00" : `${d/1e8}e+08`;
chromSeries.forEach((series,i)=>{
  const col=i%4, row=Math.floor(i/4);
  const rows=[];
  speciesNames.forEach((s,j)=>series[j].forEach(([mb,pi])=>rows.push({species:s, pos:mb*1e6, pi})));
  const svg = Plot.plot({
    width:PW+ML+4, height:PH+MT+44, marginLeft:ML, marginRight:4, marginTop:MT, marginBottom:44,
    style: baseStyle,
    x:{domain:X_DOMAIN_C, ticks:posTicks, tickFormat:fmtBp, tickSize:6, tickPadding:4, label:null, axis: row===2 ? "bottom" : null},
    y:{domain:Y_DOMAIN, ticks:piTicks, tickFormat:d=>d.toFixed(2), tickSize:6, tickPadding:5, label:null, axis: col===0 ? "left" : null},
    color:{domain:speciesNames, range:speciesColors},
    marks:[
      Plot.ruleY(piMinor, {stroke:GRID, strokeWidth:1}),
      Plot.ruleX(posMinor, {stroke:GRID, strokeWidth:1}),
      Plot.ruleY(piTicks, {stroke:GRID, strokeWidth:2}),
      Plot.ruleX(posTicks, {stroke:GRID, strokeWidth:2}),
      Plot.line(rows, {x:"pos", y:"pi", stroke:"species", strokeWidth:2.2}),
      Plot.frame({stroke:INK, strokeWidth:1.5})
    ]
  });
  put(svg, PANEL_LEFT[col]-ML, PANEL_TOP[row]-MT);
  const strip=document.createElement("div");
  strip.style.cssText=`position:absolute;left:${PANEL_LEFT[col]}px;top:${PANEL_TOP[row]-40}px;width:${PW}px;height:40px;box-sizing:border-box;background:#D9D9D9;border:1.5px solid ${INK};display:flex;align-items:center;justify-content:center;font-family:${FONT};font-size:20px;color:#1A1A1A;`;
  strip.textContent = "Chromosome " + (i+1);
  root.appendChild(strip);
});

// ---------- titles and panel letters ----------
text("A", 3, 16, 25);
text("B", 3, 512, 25);
text("C", 3, 1009, 25);
const piTitle = {family:"'DejaVu Serif', serif", weight:"bold", transform:"translate(-50%,-50%) rotate(-90deg)"};
text("π", 31, 215, 27, piTitle);
text("π", 31, 715, 27, piTitle);
text("π", 31, 1483, 27, piTitle);
text("Chromosome Position (bp)", 936, 1951, 25, {transform:"translate(-50%,-50%)"});

// ---------- legends ----------
function boxKey(color, cx, cy){
  const d=document.createElement("div");
  d.innerHTML=`<svg width="33" height="40"><line x1="16.5" x2="16.5" y1="0" y2="40" stroke="${INK}" stroke-width="1.5"/><rect x="0.75" y="9" width="31.5" height="22" fill="${color}" stroke="${INK}" stroke-width="1.5"/><line x1="0.75" x2="32.25" y1="20" y2="20" stroke="${INK}" stroke-width="3"/></svg>`;
  put(d, cx, cy-20);
}
text("Species", 1807, 132, 25);
speciesNames.forEach((s,i)=>{ const cy=175+40*i; boxKey(speciesColors[i], 1813, cy); text(s, 1860, cy, 20); });
text("Chromosome", 1803, 470, 25);
chromNames.forEach((c,i)=>{ const cy=514+39.9*i; boxKey(chromColors[i], 1809, cy); text(c, 1857, cy, 20); });
text("Species", 1807, 1399, 25);
speciesNames.forEach((s,i)=>{
  const cy=1441+39.8*i;
  const d=document.createElement("div");
  d.innerHTML=`<svg width="34" height="6"><line x1="0" x2="34" y1="3" y2="3" stroke="${speciesColors[i]}" stroke-width="2.5"/></svg>`;
  put(d, 1811, cy-3);
  text(s, 1860, cy, 20);
});
</script></body></html>
